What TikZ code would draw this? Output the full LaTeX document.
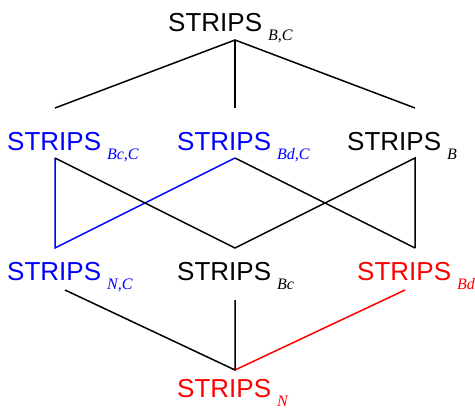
\documentclass[tikz,border=0pt]{standalone}
\usepackage{fontspec}
\setmainfont{Liberation Sans}
\newfontfamily\subfont{Liberation Serif}
\usetikzlibrary{calc}
\newcommand{\stripsname}[1]{STRIPS\hspace{6pt}\raisebox{-9pt}{\fontsize{16}{16}\subfont\itshape #1}}
\tikzset{
lbl/.style={anchor=base west,inner sep=0pt,font=\fontsize{26}{26}\selectfont},
blu/.style={text=blue},
rd/.style={text=red},
edge/.style={line width=1.5pt,black},
bedge/.style={edge,draw=blue},
redge/.style={edge,draw=red}
}

\begin{document}
\begin{tikzpicture}[x=1pt,y=-1pt]
\useasboundingbox (0,0) rectangle (475,410);
% labels
\node[lbl] (bc) at (168,31) {\stripsname{B,C}};
\node[lbl,blu] (bcc) at (7,150) {\stripsname{Bc,C}};
\node[lbl,blu] (bdc) at (177,150) {\stripsname{Bd,C}};
\node[lbl] (b) at (347,150) {\stripsname{B}};
\node[lbl,blu] (nc) at (7,280) {\stripsname{N,C}};
\node[lbl] (bcl) at (177,280) {\stripsname{Bc}};
\node[lbl,rd] (bd) at (357,280) {\stripsname{Bd}};
\node[lbl,rd] (n) at (177,397) {\stripsname{N}};
% end points of the connectors
\coordinate (bc-s) at (235,40);
\coordinate (bcc-n) at (55,108);
\coordinate (bdc-n) at (235,108);
\coordinate (b-n) at (415,108);
\coordinate (bcc-s) at (55,158);
\coordinate (bdc-s) at (235,158);
\coordinate (b-s) at (415,158);
\coordinate (nc-n) at (55,248);
\coordinate (bcl-n) at (235,248);
\coordinate (bd-n) at (415,248);
\coordinate (nc-s) at (65,290);
\coordinate (bcl-s) at (235,300);
\coordinate (bd-s) at (405,290);
\coordinate (n-n) at (235,370);
% connectors
\draw[edge] (bcc-n) -- (bc-s) -- (b-n);
\draw[edge] (bc-s) -- (bdc-n);
\draw[bedge] (bcc-s) -- (nc-n) -- (bdc-s);
\draw[edge] (bcc-s) -- (bcl-n) -- (b-s) -- (bd-n);
\draw[edge] (bdc-s) -- (bd-n);
\draw[edge] (nc-s) -- (n-n) -- (bcl-s);
\draw[redge] (n-n) -- (bd-s);
\end{tikzpicture}
\end{document}
